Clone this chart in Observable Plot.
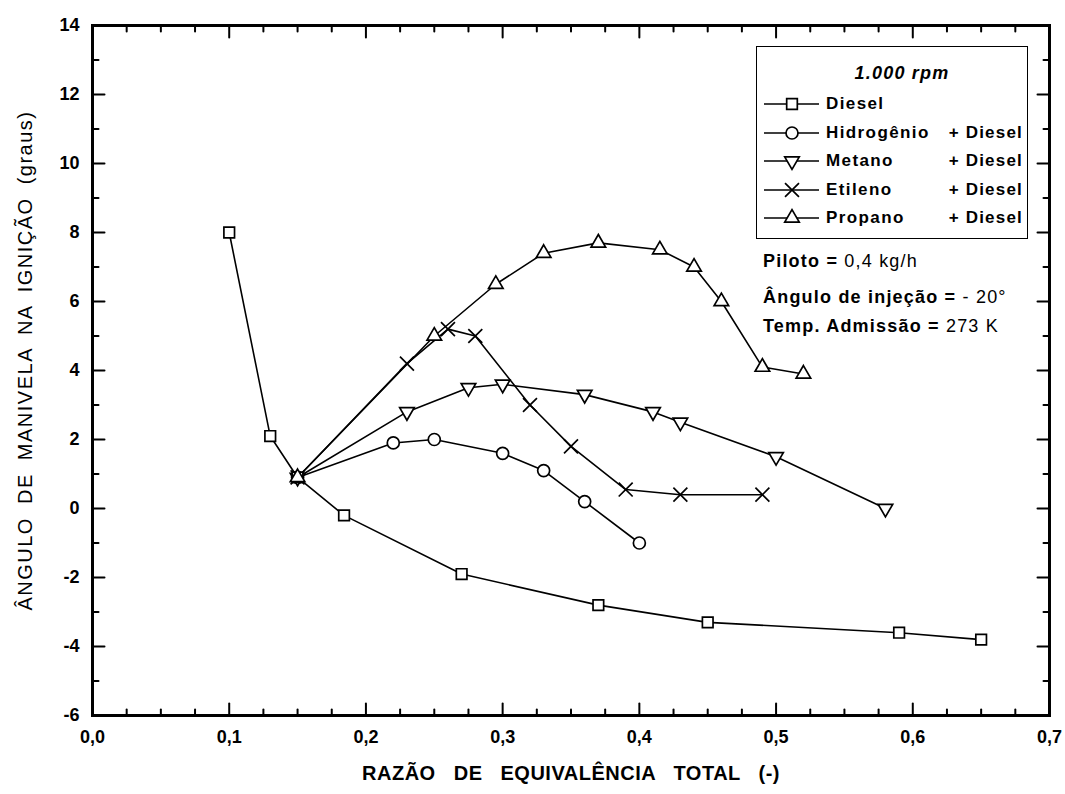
<!DOCTYPE html>
<html>
<head>
<meta charset="utf-8">
<script src="https://cdn.jsdelivr.net/npm/d3@7"></script>
<script src="https://cdn.jsdelivr.net/npm/@observablehq/plot@0.6"></script>
<style>
  html, body { margin: 0; padding: 0; background: white; }
  #wrap { position: relative; width: 1065px; height: 794px; font-family: "Liberation Sans", Arial, sans-serif; color: black; }
  #legend { position: absolute; left: 756px; top: 46px; width: 270px; height: 191px; border: 1.6px solid black; background: white; font-weight: bold; font-size: 17px; }
  #legend .t { position: absolute; left: 0; width: 290px; text-align: center; top: 16px; font-style: italic; font-size: 18px; line-height: 20px; letter-spacing: 1.2px; }
  #legend .row { position: absolute; left: 0; width: 270px; height: 24px; }
  #legend .row svg { position: absolute; left: 6px; top: 0; }
  #legend .nm { position: absolute; left: 69px; top: 2px; line-height: 20px; letter-spacing: 1.4px; }
  #legend .pd { position: absolute; right: 4px; top: 2px; line-height: 20px; letter-spacing: 1.2px; }
  .note { position: absolute; left: 763px; font-size: 18px; line-height: 20px; letter-spacing: 1.2px; }
  .note b { font-weight: bold; }
</style>
</head>
<body>
<div id="wrap"></div>
<script>
// ---------------- data ----------------
const dieselPhi = [0.10, 0.13, 0.15, 0.184, 0.27, 0.37, 0.45, 0.59, 0.65];
const dieselAng = [8.0, 2.1, 0.9, -0.2, -1.9, -2.8, -3.3, -3.6, -3.8];

const hidrogenioPhi = [0.15, 0.22, 0.25, 0.30, 0.33, 0.36, 0.40];
const hidrogenioAng = [0.9, 1.9, 2.0, 1.6, 1.1, 0.2, -1.0];

const metanoPhi = [0.15, 0.23, 0.275, 0.30, 0.36, 0.41, 0.43, 0.50, 0.58];
const metanoAng = [0.9, 2.8, 3.5, 3.6, 3.3, 2.8, 2.5, 1.5, 0.0];

const etilenoPhi = [0.15, 0.23, 0.26, 0.28, 0.32, 0.35, 0.39, 0.43, 0.49];
const etilenoAng = [0.9, 4.2, 5.2, 5.0, 3.0, 1.8, 0.55, 0.4, 0.4];

const propanoPhi = [0.15, 0.25, 0.295, 0.33, 0.37, 0.415, 0.44, 0.46, 0.49, 0.52];
const propanoAng = [0.9, 5.0, 6.5, 7.4, 7.7, 7.5, 7.0, 6.0, 4.1, 3.9];

const seriesNames = ["Diesel", "Hidrogênio", "Metano", "Etileno", "Propano"];
const seriesSuffix = ["", "+ Diesel", "+ Diesel", "+ Diesel", "+ Diesel"];

const xMajorTicks = [0, 0.1, 0.2, 0.3, 0.4, 0.5, 0.6, 0.7];
const xMinorTicks = d3.range(0, 29).map(i => i * 0.025).filter(v => Math.abs(v * 10 - Math.round(v * 10)) > 1e-6);
const yMajorTicks = [-6, -4, -2, 0, 2, 4, 6, 8, 10, 12, 14];
const yMinorTicks = [-5, -3, -1, 1, 3, 5, 7, 9, 11, 13];

const xLabel = "RAZÃO DE EQUIVALÊNCIA TOTAL (-)";
const yLabel = "ÂNGULO DE MANIVELA NA IGNIÇÃO (graus)";
const legendTitle = "1.000 rpm";
const notes = [["Piloto =", " 0,4 kg/h"], ["Ângulo de injeção =", " - 20°"], ["Temp. Admissão =", " 273 K"]];

// ---------------- build tables ----------------
const zip = (name, xs, ys) => xs.map((x, i) => ({serie: name, phi: x, ang: ys[i]}));
const diesel = zip("Diesel", dieselPhi, dieselAng);
const hidrogenio = zip("Hidrogênio", hidrogenioPhi, hidrogenioAng);
const metano = zip("Metano", metanoPhi, metanoAng);
const etileno = zip("Etileno", etilenoPhi, etilenoAng);
const propano = zip("Propano", propanoPhi, propanoAng);

// symbols
const triDown = {
  draw(context, size) {
    const y = Math.sqrt(size / (Math.sqrt(3) * 3));
    context.moveTo(0, y * 2);
    context.lineTo(-Math.sqrt(3) * y, -y);
    context.lineTo(Math.sqrt(3) * y, -y);
    context.closePath();
  }
};
const triUp = d3.symbolTriangle;
const symDefs = [
  {sym: d3.symbolSquare, r: 6.0},
  {sym: d3.symbolCircle, r: 6.0},
  {sym: triDown, r: 5.4},
  {sym: d3.symbolTimes, r: 6.4},
  {sym: triUp, r: 5.4}
];
const datasets = [diesel, hidrogenio, metano, etileno, propano];

const tickShape = {draw(context, l) { context.moveTo(0, 0); context.lineTo(0, -l); }};
const tickMarks = (values, scaleKey, anchor, rotate, length) =>
  Plot.vector(values, {
    [scaleKey]: d => d, frameAnchor: anchor, rotate, length, anchor: "start",
    shape: tickShape, stroke: "black", strokeWidth: 2
  });

const fmtX = d => d3.format(".1f")(d).replace(".", ",");

const lineMarks = [];
const dotMarks = [];
datasets.forEach((data, i) => {
  lineMarks.push(Plot.line(data, {x: "phi", y: "ang", stroke: "black", strokeWidth: 1.6}));
});
// draw order: hidrogenio, metano, etileno, diesel, propano on top
[1, 2, 3, 0, 4].forEach(i => {
  dotMarks.push(Plot.dot(datasets[i], {
    x: "phi", y: "ang", symbol: symDefs[i].sym, r: symDefs[i].r,
    fill: i === 3 ? "none" : "white", stroke: "black", strokeWidth: 1.7
  }));
});

const plot = Plot.plot({
  width: 1065,
  height: 794,
  marginLeft: 92,
  marginRight: 16,
  marginTop: 25,
  marginBottom: 79,
  x: {domain: [0, 0.7]},
  y: {domain: [-6, 14]},
  style: {fontFamily: "'Liberation Sans', Arial, sans-serif", fontWeight: "bold", fontSize: "18px", color: "black", background: "white", overflow: "visible"},
  marks: [
    Plot.axisX(xMajorTicks, {tickSize: 0, tickPadding: 15, tickFormat: fmtX, fontSize: 18, fontWeight: "bold", label: null}),
    Plot.axisY(yMajorTicks, {tickSize: 0, tickPadding: 13, tickFormat: d => String(d), fontSize: 18, fontWeight: "bold", label: null}),
    tickMarks(xMajorTicks, "x", "bottom", 0, 12),
    tickMarks(xMinorTicks, "x", "bottom", 0, 6),
    tickMarks(xMajorTicks, "x", "top", 180, 12),
    tickMarks(xMinorTicks, "x", "top", 180, 6),
    tickMarks(yMajorTicks, "y", "left", 90, 12),
    tickMarks(yMinorTicks, "y", "left", 90, 6),
    tickMarks(yMajorTicks, "y", "right", -90, 12),
    tickMarks(yMinorTicks, "y", "right", -90, 6),
    ...lineMarks,
    ...dotMarks,
    Plot.frame({stroke: "black", strokeWidth: 3}),
    Plot.text([xLabel], {text: d => d, frameAnchor: "bottom", dy: 58, textAnchor: "middle", lineAnchor: "middle", fontSize: 20, fontWeight: "bold", fill: "black"}),
    Plot.text([yLabel], {text: d => d, frameAnchor: "left", dx: -67, dy: -10, rotate: -90, textAnchor: "middle", lineAnchor: "middle", fontSize: 20, fontWeight: "normal", fill: "black"})
  ]
});

const wrap = document.getElementById("wrap");
wrap.appendChild(plot);
d3.select(plot).selectAll("text").filter(function() { return this.textContent === xLabel; })
  .style("word-spacing", "12px").style("letter-spacing", "0.5px");
d3.select(plot).selectAll("text").filter(function() { return this.textContent === yLabel; })
  .style("word-spacing", "6px").style("letter-spacing", "1.5px");

// ---------------- legend ----------------
const legend = d3.select(wrap).append("div").attr("id", "legend");
legend.append("div").attr("class", "t").text(legendTitle);
const rowTops = [45, 74, 102, 131, 159];
seriesNames.forEach((name, i) => {
  const row = legend.append("div").attr("class", "row").style("top", rowTops[i] + "px");
  const svg = row.append("svg").attr("width", 58).attr("height", 24);
  svg.append("line").attr("x1", 1).attr("x2", 56).attr("y1", 12).attr("y2", 12).attr("stroke", "black").attr("stroke-width", 1.6);
  const size = Math.PI * symDefs[i].r * symDefs[i].r;
  svg.append("path").attr("transform", "translate(29,12)")
    .attr("d", d3.symbol(symDefs[i].sym, size)())
    .attr("fill", i === 3 ? "none" : "white").attr("stroke", "black").attr("stroke-width", 1.7);
  row.append("span").attr("class", "nm").text(name);
  if (seriesSuffix[i]) row.append("span").attr("class", "pd").text(seriesSuffix[i]);
});

const noteTops = [251, 287, 316];
notes.forEach((n, i) => {
  const d = d3.select(wrap).append("div").attr("class", "note").style("top", noteTops[i] + "px");
  d.append("b").text(n[0]);
  d.append("span").text(n[1]);
});
</script>
</body>
</html>
